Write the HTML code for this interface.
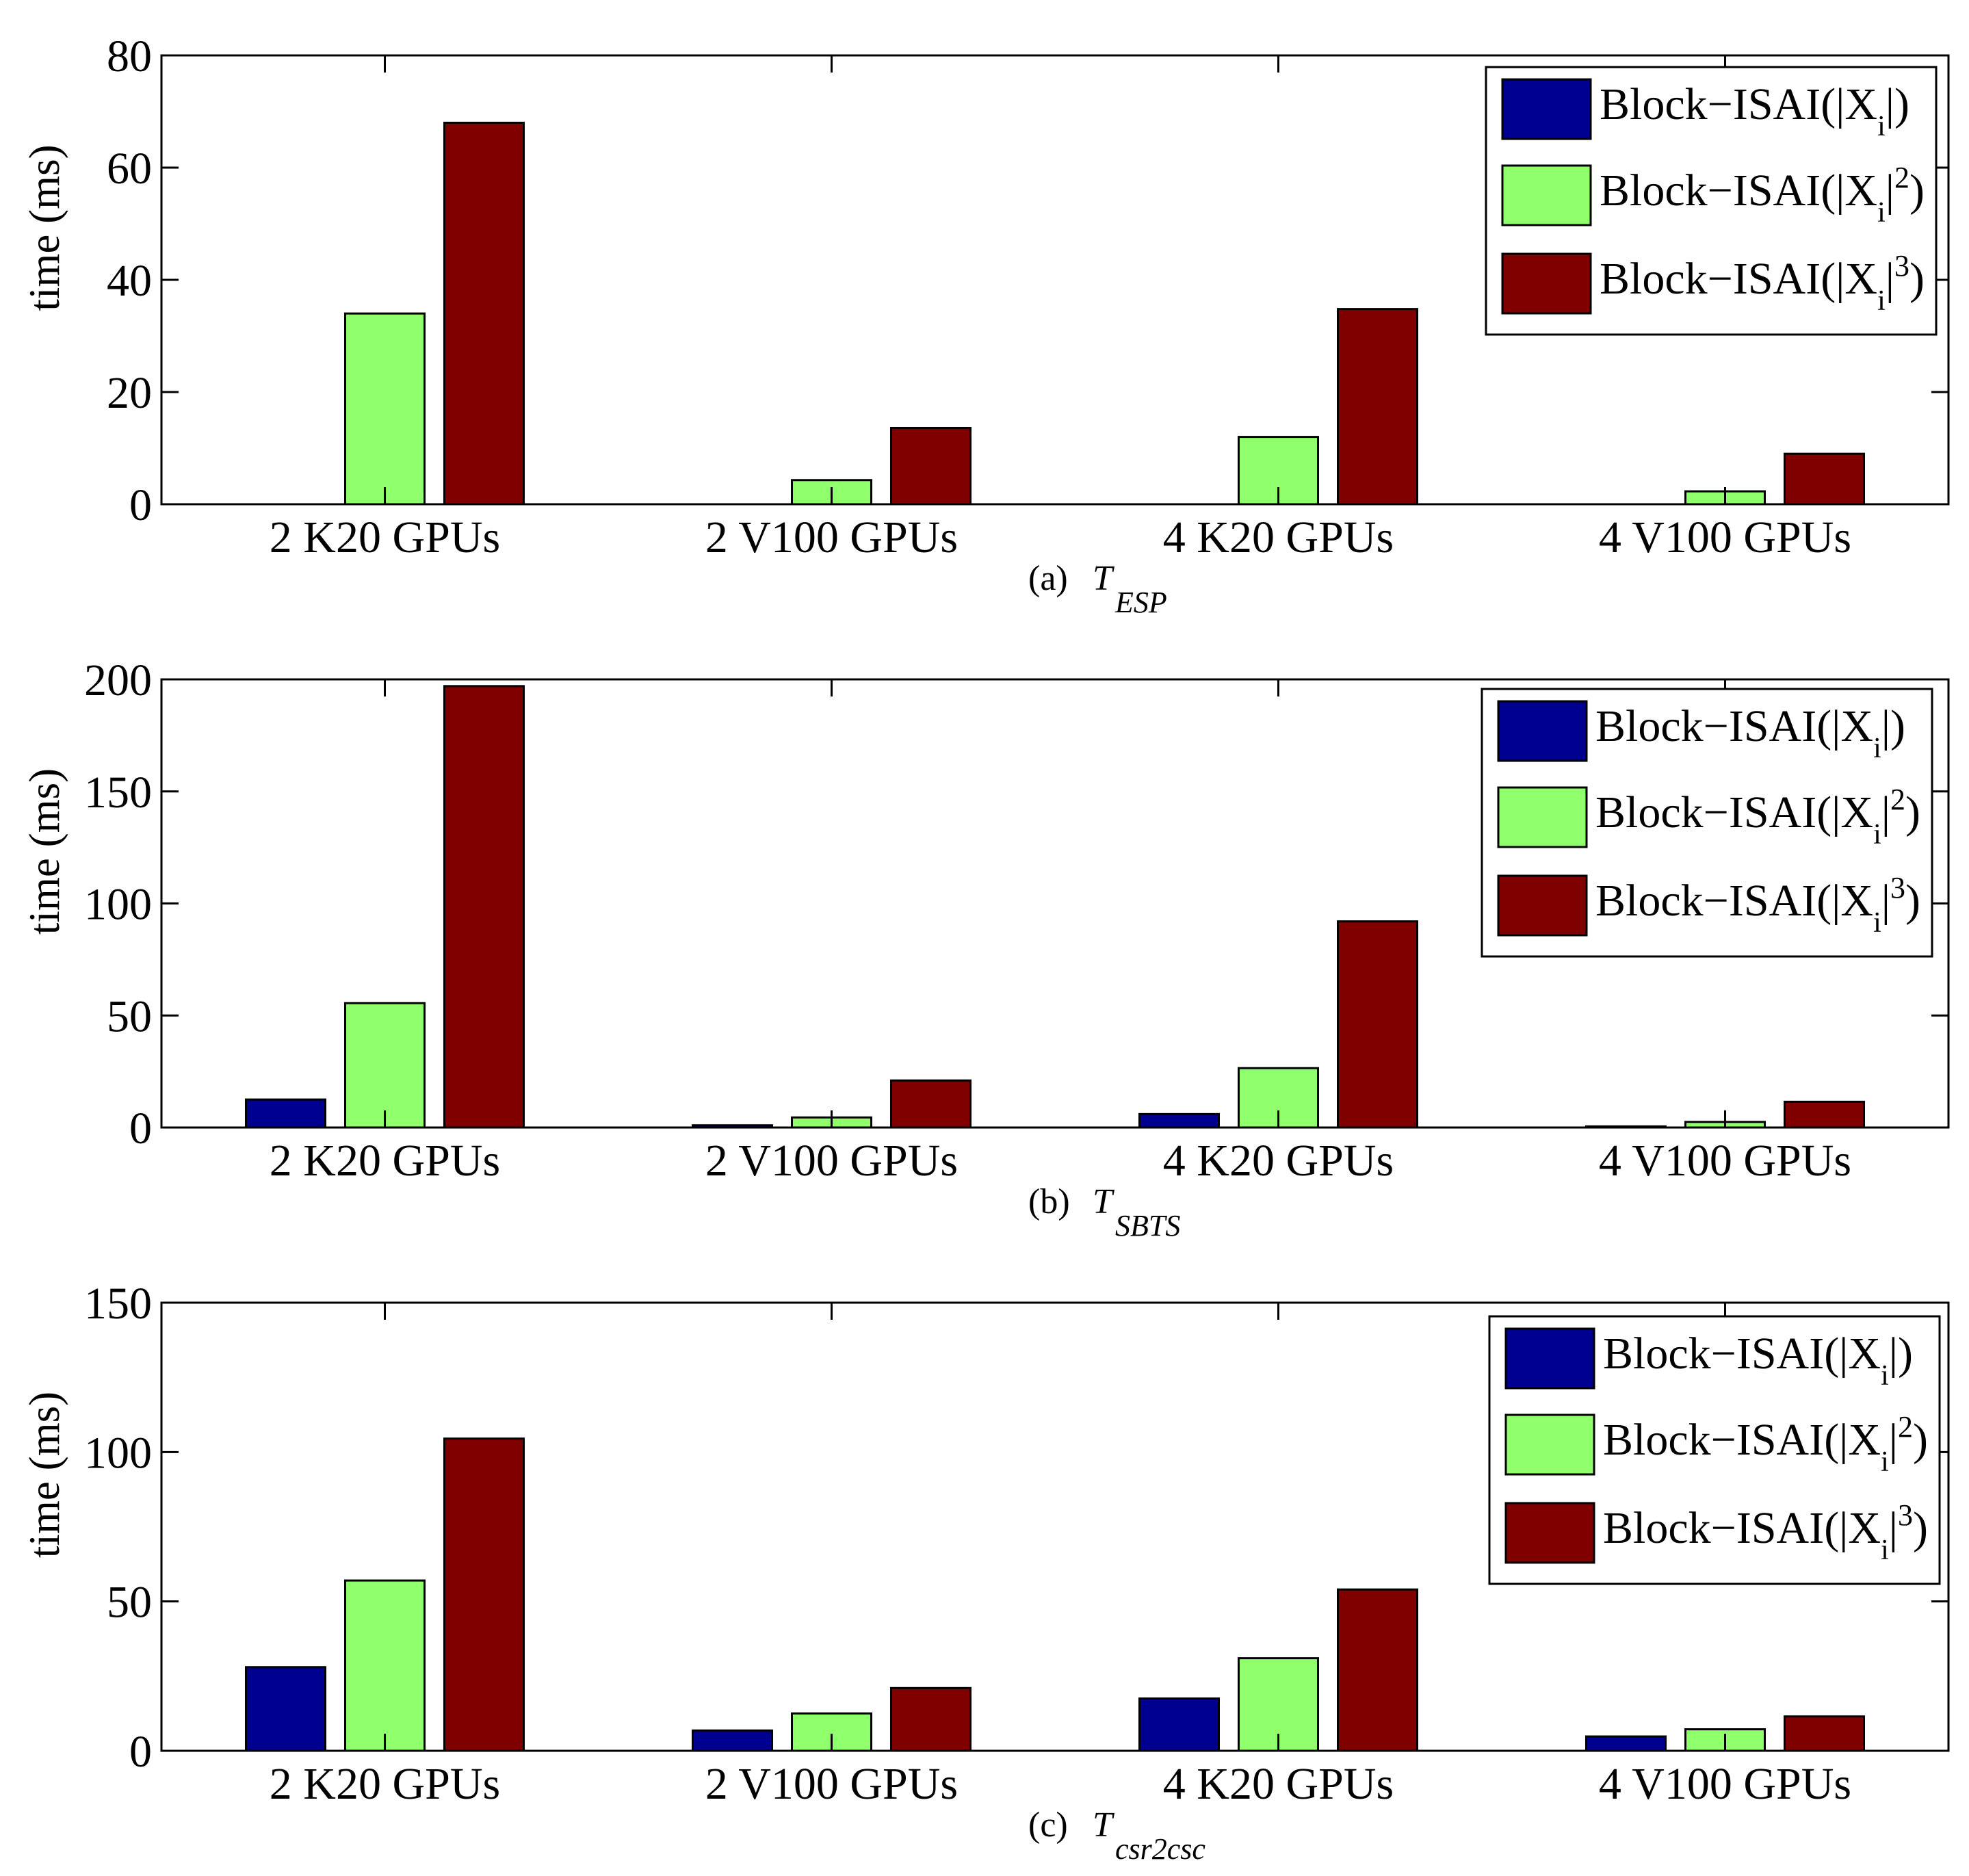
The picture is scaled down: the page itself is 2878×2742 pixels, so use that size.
<!DOCTYPE html>
<html><head><meta charset="utf-8"><style>
html,body{margin:0;padding:0;background:#fff}
svg{display:block;font-family:"Liberation Serif",serif}
</style></head><body>
<svg id="chart" width="2878" height="2742" viewBox="0 0 2878 2742" xmlns="http://www.w3.org/2000/svg"></svg>
<script>
const categories = ["2 K20 GPUs","2 V100 GPUs","4 K20 GPUs","4 V100 GPUs"];
const seriesNames = ["Block\u2212ISAI(|X", "Block\u2212ISAI(|X", "Block\u2212ISAI(|X"];
const seriesSup = ["", "2", "3"];
const espX1 = [0, 0, 0, 0];
const espX2 = [34, 4.3, 12, 2.3];
const espX3 = [68, 13.6, 34.8, 9];
const sbtsX1 = [12.5, 1, 6, 0.5];
const sbtsX2 = [55.5, 4.5, 26.5, 2.5];
const sbtsX3 = [197, 21, 92, 11.5];
const cscX1 = [28, 6.8, 17.5, 4.8];
const cscX2 = [57, 12.5, 31, 7.2];
const cscX3 = [104.5, 21, 54, 11.5];
const espTicks = [0, 20, 40, 60, 80];
const sbtsTicks = [0, 50, 100, 150, 200];
const cscTicks = [0, 50, 100, 150];
const captionLetters = ["(a)", "(b)", "(c)"];
const captionSubs = ["ESP", "SBTS", "csr2csc"];

const colors = ["#000090", "#90ff6c", "#800000"];
const NS = "http://www.w3.org/2000/svg";
const svg = document.getElementById("chart");
function mk(tag, attrs, parent, text){
  const e = document.createElementNS(NS, tag);
  for (const k in attrs) e.setAttribute(k, attrs[k]);
  if (text !== undefined) e.textContent = text;
  (parent || svg).appendChild(e);
  return e;
}
const L = 236, R = 2848;
const panels = [
  {top:81, bot:737, ticks:espTicks, data:[espX1,espX2,espX3], legend:[2172,98], cap:0},
  {top:993, bot:1648, ticks:sbtsTicks, data:[sbtsX1,sbtsX2,sbtsX3], legend:[2166,1007], cap:1},
  {top:1904, bot:2559, ticks:cscTicks, data:[cscX1,cscX2,cscX3], legend:[2177,1924], cap:2}
];
panels.forEach((p, pi) => {
  const g = mk("g", {});
  
  
  const ymax = p.ticks[p.ticks.length-1];
  const y = v => p.bot - v / ymax * (p.bot - p.top);
  const gw = (R - L) / categories.length;
  const x = i => L + gw * (i + 0.5);
  const offs = [-145, 0, 145], bw = 116;
  p.data.forEach((arr, s) => {
    arr.forEach((v, i) => {
      if (v <= 0) return;
      const r = mk("rect", {x: x(i) + offs[s] - bw/2, y: y(v), width: bw, height: p.bot - y(v), fill: colors[s], stroke: "#000", "stroke-width": 3}, g);
      
      
    });
  });
  const box = mk("rect", {x: L, y: p.top, width: R - L, height: p.bot - p.top, fill: "none", stroke: "#000", "stroke-width": 3}, g);
  
  
  p.ticks.forEach(t => {
    mk("line", {x1: L, x2: L + 25, y1: y(t), y2: y(t), stroke: "#000", "stroke-width": 3}, g);
    mk("line", {x1: R, x2: R - 25, y1: y(t), y2: y(t), stroke: "#000", "stroke-width": 3}, g);
    const tl = mk("text", {x: L - 14, y: y(t) + 23, "text-anchor": "end", "font-size": 66}, g, String(t));
    
    
  });
  categories.forEach((c, i) => {
    mk("line", {x1: x(i), x2: x(i), y1: p.top, y2: p.top + 25, stroke: "#000", "stroke-width": 3}, g);
    mk("line", {x1: x(i), x2: x(i), y1: p.bot, y2: p.bot - 25, stroke: "#000", "stroke-width": 3}, g);
    const xl = mk("text", {x: x(i), y: p.bot + 70, "text-anchor": "middle", "font-size": 66}, g, c);
    
    
  });
  const cy = (p.top + p.bot) / 2 - 76;
  const yl = mk("text", {x: 0, y: 0, transform: `translate(86 ${cy}) rotate(-90)`, "text-anchor": "middle", "font-size": 63}, g, "time (ms)");
  
  
  const cap = mk("text", {x: 1503, y: p.bot + 125, "font-size": 52}, g);
  
  
  mk("tspan", {}, cap, captionLetters[p.cap] + " ");
  mk("tspan", {x: 1597, "font-style": "italic"}, cap, "T");
  mk("tspan", {x: 1630, dy: 33, "font-style": "italic", "font-size": 44}, cap, captionSubs[p.cap]);
  const [lx, ly] = p.legend;
  const lg = mk("g", {}, g);
  
  
  mk("rect", {x: lx, y: ly, width: 658, height: 391, fill: "#fff", stroke: "#000", "stroke-width": 3}, lg);
  const rows = [18, 144, 273];
  seriesNames.forEach((n, s) => {
    const ry = ly + rows[s];
    const e = mk("g", {}, lg);
    
    
    mk("rect", {x: lx + 24, y: ry, width: 129, height: 87, fill: colors[s], stroke: "#000", "stroke-width": 3}, e);
    const t = mk("text", {x: lx + 166, y: ry + 58, "font-size": 66}, e);
    mk("tspan", {}, t, n);
    mk("tspan", {dy: 24, "font-size": 42}, t, "i");
    if (seriesSup[s]) {
      mk("tspan", {dy: -24, "font-size": 66}, t, "|");
      mk("tspan", {dy: -26, "font-size": 44}, t, seriesSup[s]);
      mk("tspan", {dy: 26, "font-size": 66}, t, ")");
    } else {
      mk("tspan", {dy: -24, "font-size": 66}, t, "|)");
    }
  });
});
</script>
</body></html>
